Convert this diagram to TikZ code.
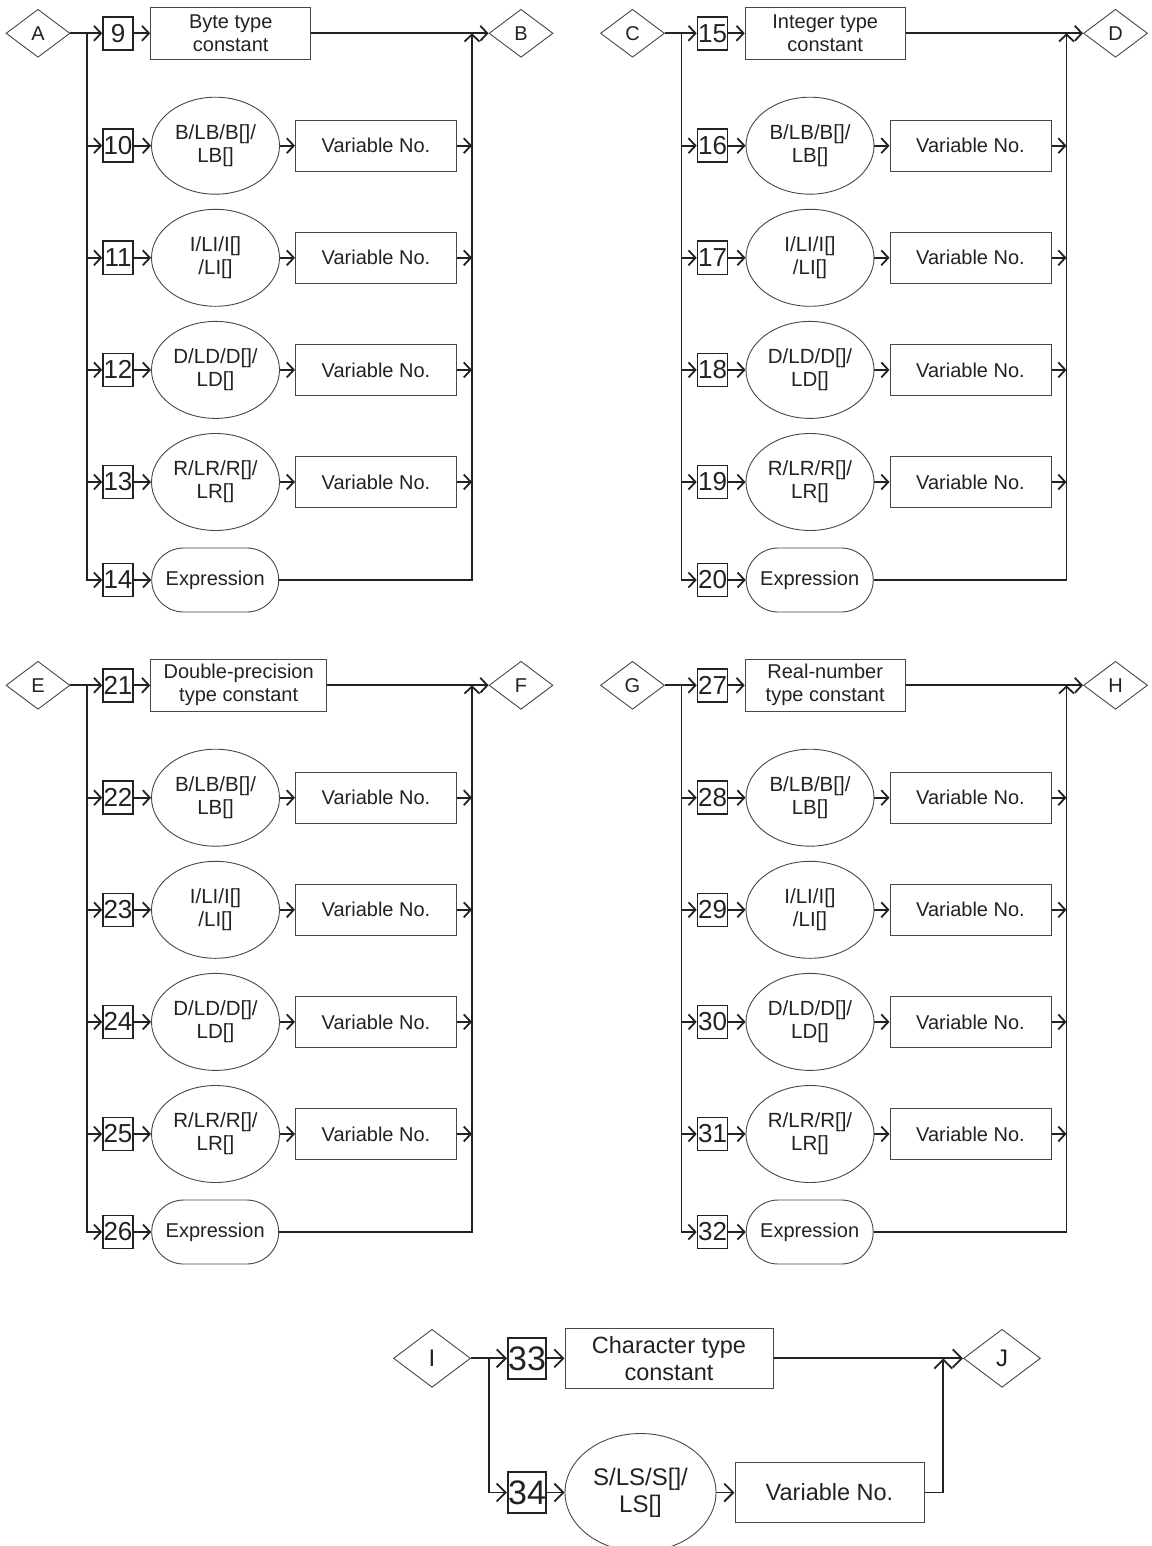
\documentclass[tikz,border=0pt]{standalone}
\usepackage{fontspec}
\setmainfont{Liberation Sans}
\usetikzlibrary{arrows.meta,shapes.geometric}
\definecolor{ink}{HTML}{222222}
\definecolor{edgegray}{HTML}{474747}
\tikzset{
  conn/.style={draw=ink, line width=1.8pt},
  arr/.style={conn, -{Straight Barb[length=7pt,width=15pt]}},
  bigarr/.style={conn, -{Straight Barb[length=9pt,width=18pt]}},
  numbox/.style={draw=ink, line width=1.6pt, minimum width=30pt, minimum height=33pt,
    inner sep=0pt, font=\fontsize{26}{26}\selectfont, text=ink},
  txtbox/.style={draw=edgegray, line width=1pt, minimum height=52pt, inner sep=0pt,
    align=center, font=\fontsize{20}{23}\selectfont, text=ink},
  ellnode/.style={ellipse, draw=edgegray, line width=0.9pt, minimum width=128pt,
    minimum height=97pt, inner sep=0pt, align=center,
    font=\fontsize{20.5}{23}\selectfont, text=ink},
  exprnode/.style={rectangle, rounded corners=32pt, draw=edgegray, line width=0.9pt,
    minimum width=127pt, minimum height=64pt, inner sep=0pt,
    font=\fontsize{20}{23}\selectfont, text=ink},
  dia/.style={diamond, draw=edgegray, line width=0.9pt, minimum width=64pt,
    minimum height=48pt, inner sep=0pt, font=\fontsize{20}{20}\selectfont, text=ink},
}
% #1 prefix, #2 dx, #3 dy, #4 in, #5 out, #6 first number, #7 const text, #8 const width
\newcommand\mkblock[8]{%
  \begin{scope}[shift={(#2,#3)}]
    \node[dia] (#1in) at (38,33.3) {#4};
    \node[numbox] (#1n0) at (118,33.3) {#6};
    \node[txtbox, minimum width=#8pt] (#1c) at ({150.7+#8/2},33.3) {#7};
    \node[dia] (#1out) at (521,33.3) {#5};
    \coordinate (#1lt) at (87,33.3);
    \coordinate (#1rt) at (472,33.3);
    \draw[arr] (#1in) -- (#1n0);
    \draw[arr] (#1n0) -- (#1c);
    \draw[arr] (#1c) -- (#1out);
    \foreach \k/\yy/\lab in {1/145.7/{B/LB/B[]/\\LB[]},2/257.8/{I/LI/I[]\\/LI[]},%
        3/369.9/{D/LD/D[]/\\LD[]},4/482/{R/LR/R[]/\\LR[]}} {
      \node[numbox] (#1n\k) at (118,\yy) {\the\numexpr#6+\k\relax};
      \node[ellnode] (#1e\k) at (215.5,\yy) {\lab};
      \node[txtbox, minimum width=161pt, minimum height=51pt] (#1v\k) at (376,\yy) {Variable No.};
      \coordinate (#1l\k) at (87,\yy);
      \coordinate (#1r\k) at (472,\yy);
      \draw[arr] (#1l\k) -- (#1n\k);
      \draw[arr] (#1n\k) -- (#1e\k);
      \draw[arr] (#1e\k) -- (#1v\k);
      \draw[arr] (#1v\k) -- (#1r\k);
    }
    \node[numbox] (#1n5) at (118,580) {\the\numexpr#6+5\relax};
    \node[exprnode] (#1x) at (215.2,580) {Expression};
    \draw[arr] (#1lt) |- (#1n5);
    \draw[arr] (#1n5) -- (#1x);
    \draw[arr] (#1x) -| (#1rt);
  \end{scope}
}
\begin{document}
\begin{tikzpicture}[x=1pt,y=-1pt]
  \useasboundingbox (0,0) rectangle (1151,1546);
  \mkblock{a}{0}{0}{A}{B}{9}{Byte type\\constant}{160}
  \mkblock{c}{594.5}{0}{C}{D}{15}{Integer type\\constant}{160}
  \mkblock{e}{0}{652}{E}{F}{21}{Double-precision\\type constant}{176}
  \mkblock{g}{594.5}{652}{G}{H}{27}{Real-number\\type constant}{160}
  % bottom block
  \node[dia, minimum width=77pt, minimum height=58pt, font=\fontsize{24}{24}\selectfont] (iin) at (432,1358.3) {I};
  \node[numbox, minimum width=38.5pt, minimum height=41pt, font=\fontsize{34}{34}\selectfont] (n33) at (527,1358.3) {33};
  \node[txtbox, minimum width=208pt, minimum height=60pt, font=\fontsize{23.5}{27}\selectfont] (cc) at (669,1358.3) {Character type\\constant};
  \node[dia, minimum width=77pt, minimum height=58pt, font=\fontsize{24}{24}\selectfont] (jout) at (1002,1358.3) {J};
  \coordinate (blt) at (489.3,1358.3);
  \coordinate (brt) at (943.3,1358.3);
  \node[numbox, minimum width=38.5pt, minimum height=41pt, font=\fontsize{34}{34}\selectfont] (n34) at (527,1492.5) {34};
  \node[ellnode, minimum width=151pt, minimum height=118pt, font=\fontsize{24}{27}\selectfont] (e34) at (640.5,1492.5) {S/LS/S[]/\\LS[]};
  \node[txtbox, minimum width=189pt, minimum height=60pt, font=\fontsize{23.5}{27}\selectfont] (v34) at (829.5,1492.5) {Variable No.};
  \draw[bigarr] (iin) -- (n33);
  \draw[bigarr] (n33) -- (cc);
  \draw[bigarr] (cc) -- (jout);
  \draw[bigarr] (blt) |- (n34);
  \draw[bigarr] (n34) -- (e34);
  \draw[bigarr] (e34) -- (v34);
  \draw[bigarr] (v34) -| (brt);
\end{tikzpicture}
\end{document}
